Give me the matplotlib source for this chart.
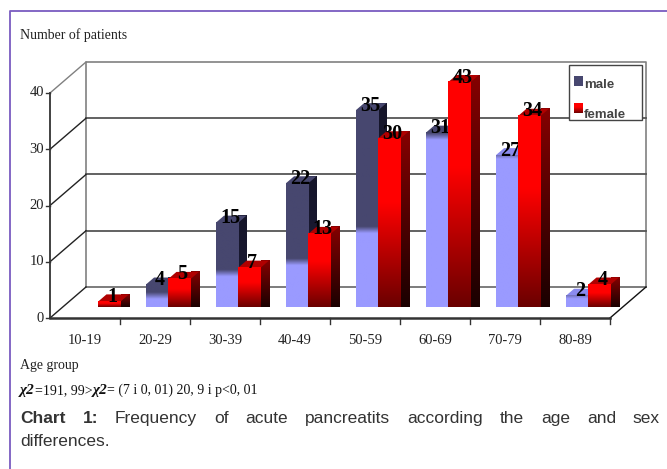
import numpy as np
import matplotlib
matplotlib.use('Agg')
import matplotlib.pyplot as plt
from matplotlib.patches import Polygon
from matplotlib.colors import to_rgb

# ---------------- data ----------------
categories = ['10-19', '20-29', '30-39', '40-49', '50-59', '60-69', '70-79', '80-89']
male = [0, 4, 15, 22, 35, 31, 27, 2]
female = [1, 5, 7, 13, 30, 43, 34, 4]
yticks = [0, 10, 20, 30, 40]
ymax = 40
series_names = ['male', 'female']

# style: height (value units) of the pale part of the male bars' gradient
male_light = [0, 2, 6, 8, 13.7, 30.3, 27, 2]

SERIF = ['Liberation Serif', 'DejaVu Serif']
SANS = ['Liberation Sans', 'DejaVu Sans']

W, H = 667, 469
fig = plt.figure(figsize=(W / 100, H / 100), dpi=100)
ax = fig.add_axes([0, 0, 1, 1])
# axes scales: one unit in x = one category (70 px), one unit in y = one patient (5.625 px)
PX, PY = 70.0, 5.625
X0, Y0 = 50.0, 318.0
ax.set_xlim(-X0 / PX, (W - X0) / PX)
ax.set_ylim((Y0 - H) / PY, Y0 / PY)
ax.axis('off')

def px(x, y):
    """pixel position -> data coordinates (for layout of texts/frames)"""
    return (x - X0) / PX, (Y0 - y) / PY

n = len(categories)
Dx, Dy = 36 / PX, 31 / PY          # depth of the floor
zf = 0.355                          # depth position of bars' front faces
bw = 0.32                           # bar width
bdx, bdy = 0.116, 1.24              # depth of bar
boff = 0.188

# -------------- walls / grid --------------
gcol = '#808080'
ax.plot([Dx, Dx, n + Dx, n + Dx], [Dy, Dy + ymax, Dy + ymax, Dy], color=gcol, lw=1.2, zorder=1)
ax.plot([Dx, n + Dx], [Dy, Dy], color='#666666', lw=1.2, zorder=1)
for v in yticks[1:-1]:
    ax.plot([Dx, n + Dx], [Dy + v, Dy + v], color='#555555', lw=1.3, zorder=1)
for v in yticks:
    ax.plot([0, Dx], [v, Dy + v], color='#222222' if v < ymax else gcol, lw=1.0, zorder=1)
ax.plot([n, n + Dx], [0, Dy], color='#111111', lw=1.0, zorder=1)
ax.plot([0, n], [0, 0], color='#333333', lw=1.8, zorder=5)
ax.plot([0, 0], [0, ymax], color='#333333', lw=1.3, zorder=5)
for v in yticks:
    ax.plot([-4 / PX, 0], [v, v], color='#333333', lw=1.0, zorder=5)
    ax.text(-6 / PX, v, str(v), ha='right', va='center', fontsize=10.5,
            family=SERIF, color='#222222')
for i in range(1, n + 1):
    ax.plot([i, i], [0, -6 / PY], color='#333333', lw=1.0, zorder=5)
for i, c in enumerate(categories):
    ax.text(i + 0.5, -4.0, c, ha='center', va='center', fontsize=10.5,
            family=SERIF, color='#222222')

# -------------- gradient helpers --------------
def lerp_colors(t, stops):
    ts = [s[0] for s in stops]
    cols = np.array([to_rgb(s[1]) for s in stops])
    return np.stack([np.interp(t, ts, cols[:, k]) for k in range(3)], axis=-1)

def grad_poly(verts, ylo, yhi, func, z):
    verts = np.asarray(verts)
    poly = Polygon(verts, closed=True, facecolor='none', edgecolor='none',
                   transform=ax.transData)
    ys = np.linspace(ylo, yhi, 200)
    img = func(ys)[:, None, :].repeat(2, axis=1)
    im = ax.imshow(img, extent=[verts[:, 0].min(), verts[:, 0].max(), ylo, yhi],
                   origin='lower', aspect='auto', interpolation='bilinear',
                   zorder=z, clip_on=False)
    im.set_clip_path(poly)

def flat_poly(verts, color, z):
    ax.add_patch(Polygon(verts, closed=True, facecolor=color, edgecolor='none',
                         zorder=z, clip_on=False))

def draw_bar(i, s, v, z):
    if v <= 0:
        return
    h = min(v, ymax)
    x0 = i + boff + s * bw + zf * Dx
    y0 = zf * Dy
    front = [(x0, y0), (x0 + bw, y0), (x0 + bw, y0 + h), (x0, y0 + h)]
    top = [(x0, y0 + h), (x0 + bw, y0 + h), (x0 + bw + bdx, y0 + h + bdy), (x0 + bdx, y0 + h + bdy)]
    side = [(x0 + bw, y0), (x0 + bw + bdx, y0 + bdy), (x0 + bw + bdx, y0 + h + bdy), (x0 + bw, y0 + h)]
    if s == 0:
        L = male_light[i]
        dark, light = '#47476f', '#9a9aff'
        grad_poly(side, y0, y0 + h + bdy,
                  lambda ys: lerp_colors(ys - y0, [(0, '#1e1e38'), (h, '#15152a')]), z)
        topc = dark if L < h - 0.2 else '#8a8aee'
        flat_poly(top, topc, z)
        grad_poly(front, y0, y0 + h,
                  lambda ys: lerp_colors(ys - y0, [(L - 0.6, light), (L + 0.6, dark)]), z)
    else:
        grad_poly(side, y0, y0 + h + bdy,
                  lambda ys: lerp_colors((ys - y0) / (h + bdy), [(0, '#1a0000'), (1, '#850000')]), z)
        flat_poly(top, '#b00000', z)
        grad_poly(front, y0, y0 + h,
                  lambda ys: lerp_colors((ys - y0) / h, [(0, '#6a0000'), (0.62, '#ff0000'), (1, '#ff0000')]), z)
    ax.text(x0 + bw / 2 + 0.04, y0 + h - 0.1, str(v), ha='center', va='baseline',
            fontsize=14.5, fontweight='bold', family=SERIF, color='black', zorder=z + 1)

z = 10
for i in range(n):
    draw_bar(i, 0, male[i], z)
    draw_bar(i, 1, female[i], z + 2)
    z += 4

# -------------- legend --------------
lx0, ly0 = px(569, 120)
lx1, ly1 = px(642, 65)
ax.add_patch(Polygon([(lx0, ly0), (lx1, ly0), (lx1, ly1), (lx0, ly1)], closed=True,
                     facecolor='white', edgecolor='#444444', lw=1.0, zorder=60))
mx0, my0 = px(574, 86)
mx1, my1 = px(583, 76)
ax.add_patch(Polygon([(mx0, my0), (mx1, my0), (mx1, my1), (mx0, my1)], closed=True,
                     facecolor='#47476f', edgecolor='none', zorder=61))
fx0, fy0 = px(574, 113)
fx1, fy1 = px(583, 103)
grad_poly([(fx0, fy0), (fx1, fy0), (fx1, fy1), (fx0, fy1)], fy0, fy1,
          lambda ys: lerp_colors((ys - fy0) / (fy1 - fy0), [(0, '#6a0000'), (0.6, '#ff0000'), (1, '#ff0000')]), 61)
tx, ty = px(584, 88)
ax.text(tx, ty, series_names[0], ha='left', va='baseline', fontsize=9.5, family=SANS,
        fontweight='bold', color='#444444', zorder=62)
tx, ty = px(584, 118)
ax.text(tx, ty, series_names[1], ha='left', va='baseline', fontsize=9.5, family=SANS,
        fontweight='bold', color='#444444', zorder=62)

# -------------- titles / texts --------------
tx, ty = px(20, 35)
ax.text(tx, ty, 'Number of patients', ha='left', va='center', fontsize=10, family=SERIF, color='#222222')
tx, ty = px(20, 365)
ax.text(tx, ty, 'Age group', ha='left', va='center', fontsize=10, family=SERIF, color='#222222')

tx, ty = px(20, 394)
parts = [('χ2', True), ('=191, 99>', False), ('χ2', True), ('= (7 i 0, 01) 20, 9 i p<0, 01', False)]
fig.canvas.draw()
rend = fig.canvas.get_renderer()
cur = tx
for txt, bold in parts:
    t = ax.text(cur, ty, txt, ha='left', va='baseline',
                fontsize=11 if bold else 10, family=SERIF,
                fontweight='bold' if bold else 'normal',
                fontstyle='italic' if bold else 'normal', color='#111111')
    bb = t.get_window_extent(renderer=rend)
    cur += bb.width / PX

words = [('Chart', True), ('1:', True), ('Frequency', False), ('of', False), ('acute', False),
         ('pancreatits', False), ('according', False), ('the', False), ('age', False),
         ('and', False), ('sex', False)]
_, cy = px(0, 423)
arts = []
for wtxt, bold in words:
    t = ax.text(0, cy, wtxt, ha='left', va='baseline', fontsize=12.5, family=SANS,
                fontweight='bold' if bold else 'normal', color='#333333')
    arts.append(t)
widths = [a.get_window_extent(renderer=rend).width for a in arts]
left, right = 20, 660
gap = (right - left - sum(widths)) / (len(words) - 1)
cx = left
for a, wdt in zip(arts, widths):
    a.set_x((cx - X0) / PX)
    cx += wdt + gap
_, cy2 = px(0, 446)
ax.text(px(20, 0)[0], cy2, 'differences.', ha='left', va='baseline', fontsize=12.5,
        family=SANS, color='#333333')

fl, ft = px(10, 11)
fr, fb = px(668, 470)
ax.plot([fl, fl, fr], [fb, ft, ft], color='#7a5cc0', lw=1.3, clip_on=False, zorder=100)

ax.set_xlim(-X0 / PX, (W - X0) / PX)
ax.set_ylim((Y0 - H) / PY, Y0 / PY)
fig.savefig('out.png', dpi=100)
